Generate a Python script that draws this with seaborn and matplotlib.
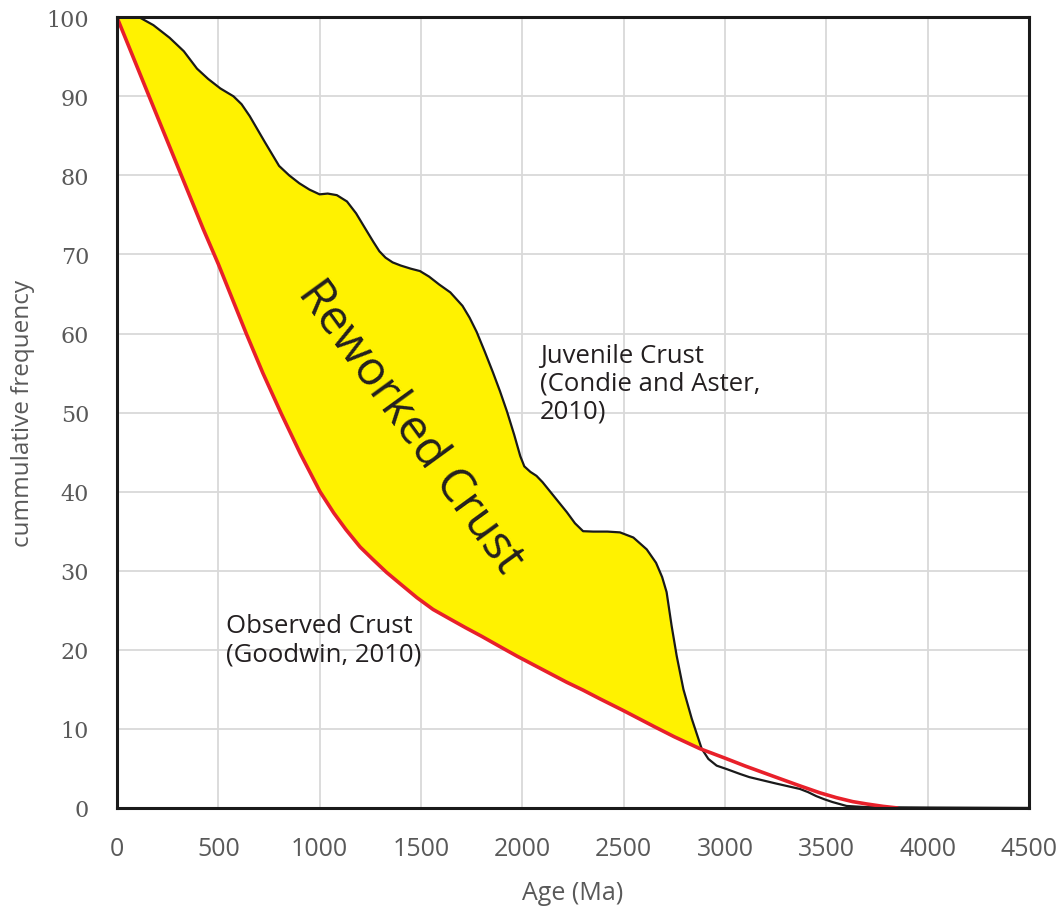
import numpy as np
import pandas as pd
import matplotlib
matplotlib.use("Agg")
import matplotlib.pyplot as plt
import seaborn as sns

# Juvenile crust (Condie and Aster, 2010)
juv_age = [0, 110, 180, 260, 330, 395, 450, 510, 575, 615, 655, 730, 800, 850, 900,
           950, 1000, 1040, 1085, 1135, 1180, 1220, 1265, 1295, 1325, 1360, 1400, 1450,
           1495, 1540, 1590, 1645, 1705, 1740, 1775, 1815, 1855, 1890, 1925, 1960,
           1990, 2010, 2040, 2070, 2100, 2160, 2220, 2260, 2300, 2350, 2420, 2482,
           2548, 2614, 2660, 2690, 2712, 2737, 2762, 2795, 2836, 2885, 2918, 2959, 3010,
           3074, 3120, 3250, 3370, 3410, 3450, 3490, 3530, 3600, 3700, 4000, 4500]
juv_val = [100, 100, 99.0, 97.4, 95.7, 93.5, 92.2, 91.0, 90.0, 89.0, 87.5, 84.2, 81.2,
           80.0, 79.0, 78.2, 77.6, 77.7, 77.5, 76.7, 75.2, 73.5, 71.6, 70.4, 69.6, 69.0,
           68.6, 68.2, 67.9, 67.2, 66.2, 65.2, 63.5, 62.0, 60.2, 57.7, 55.1, 52.7, 50.1,
           47.2, 44.5, 43.2, 42.5, 42.0, 41.2, 39.3, 37.4, 36.0, 35.0, 34.95, 34.95,
           34.85, 34.2, 32.7, 31.0, 29.2, 27.3, 23.0, 19.2, 15.0, 11.3, 7.5, 6.2, 5.35,
           4.9, 4.3, 3.9, 3.1, 2.4, 2.0, 1.5, 1.1, 0.75, 0.25, 0.1, 0.05, 0.0]

# Observed crust (Goodwin, 2010)
obs_age = [0, 200, 426, 500, 638, 720, 812, 905, 1002, 1070, 1130, 1200, 1264, 1330,
           1400, 1480, 1560, 1643, 1720, 1800, 1890, 1974, 2100, 2219, 2300, 2383, 2500,
           2650, 2750, 2876, 3000, 3100, 3250, 3369, 3470, 3550, 3630, 3700, 3780, 3850]
obs_val = [100, 87.4, 73.2, 68.8, 60.0, 55.0, 49.8, 44.8, 40.0, 37.3, 35.2, 33.0, 31.4,
           29.8, 28.3, 26.6, 25.1, 23.9, 22.8, 21.7, 20.4, 19.2, 17.5, 15.9, 14.9, 13.8,
           12.3, 10.3, 9.0, 7.5, 6.3, 5.3, 3.9, 2.8, 1.9, 1.3, 0.8, 0.5, 0.2, 0.0]

x_ticks = [0, 500, 1000, 1500, 2000, 2500, 3000, 3500, 4000, 4500]
y_ticks = [0, 10, 20, 30, 40, 50, 60, 70, 80, 90, 100]

juv = pd.DataFrame({"age": juv_age, "freq": juv_val})
obs = pd.DataFrame({"age": obs_age, "freq": obs_val})

sns.set_theme(style="white")
plt.rcParams["font.family"] = ["Open Sans", "DejaVu Sans"]

fig = plt.figure(figsize=(10.63, 9.12), dpi=100)
ax = fig.add_axes([0.110, 0.113, 0.858, 0.867])

ax.set_xlim(0, 4500)
ax.set_ylim(0, 100)
ax.set_xticks(x_ticks)
ax.set_yticks(y_ticks)
ax.grid(True, color="#d9d9d9", linewidth=1.3)
ax.set_axisbelow(True)

# yellow area between the curves
grid = np.linspace(0, 2890, 800)
gj = np.interp(grid, juv_age, juv_val)
go = np.interp(grid, obs_age, obs_val)
ax.fill_between(grid, go, gj, where=gj >= go, color="#fff200", linewidth=0, zorder=2)

sns.lineplot(data=juv, x="age", y="freq", ax=ax, color="#1a1a1a", linewidth=1.6,
             estimator=None, sort=False, zorder=3)
sns.lineplot(data=obs, x="age", y="freq", ax=ax, color="#e8202a", linewidth=2.6,
             estimator=None, sort=False, zorder=4)
for ln in ax.lines:
    ln.set_solid_joinstyle("round")

for s in ax.spines.values():
    s.set_color("#1a1a1a")
    s.set_linewidth(2.2)
    s.set_zorder(5)

ax.tick_params(axis="both", length=0)
ax.tick_params(axis="x", pad=20, labelsize=18, labelcolor="#595959")
ax.tick_params(axis="y", pad=20, labelsize=16, labelcolor="#595959")
for lab in ax.get_yticklabels():
    lab.set_family("DejaVu Serif")

ax.set_xlabel("Age (Ma)", fontsize=18, color="#595959", labelpad=14)
ax.set_ylabel("cummulative frequency", fontsize=17.5, color="#595959", labelpad=8)

ax.text(2087, 58.8, "Juvenile Crust\n(Condie and Aster,\n2010)", fontsize=18.5,
        color="#231f20", ha="left", va="top", linespacing=1.15, zorder=6)
ax.text(538, 24.6, "Observed Crust\n(Goodwin, 2010)", fontsize=18.5,
        color="#231f20", ha="left", va="top", linespacing=1.15, zorder=6)
ax.text(1445, 48.3, "Reworked Crust", fontsize=34, color="#231f20",
        rotation=-54, rotation_mode="anchor", ha="center", va="center", zorder=6)

fig.savefig("out.png", dpi=100)
